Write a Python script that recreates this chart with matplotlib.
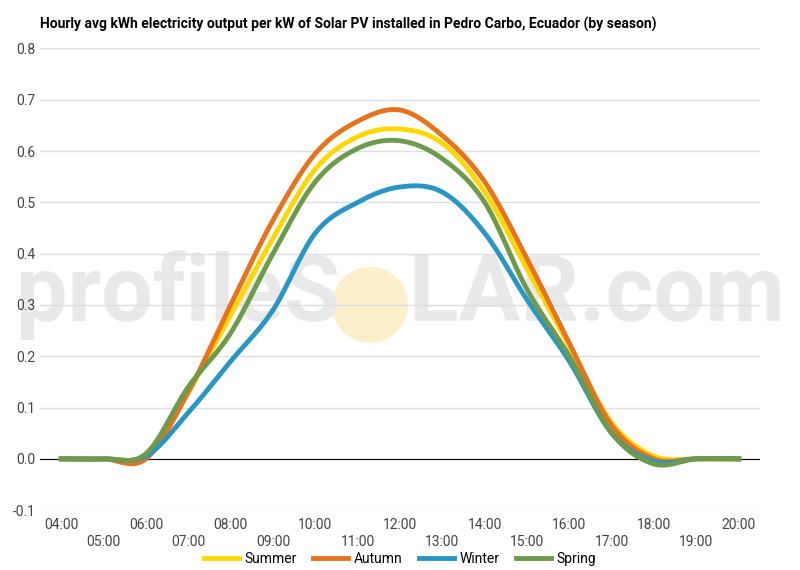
import numpy as np
import matplotlib.pyplot as plt
from matplotlib.patches import Ellipse

hours = list(range(4, 21))
summer = [0, 0, 0.005, 0.13, 0.28, 0.43, 0.565, 0.628, 0.643, 0.615, 0.52, 0.37, 0.22, 0.07, 0.005, 0, 0]
autumn = [0, 0, 0.0, 0.13, 0.30, 0.465, 0.595, 0.658, 0.68, 0.63, 0.54, 0.39, 0.225, 0.065, 0, 0, 0]
winter = [0, 0, 0.005, 0.09, 0.19, 0.29, 0.44, 0.50, 0.53, 0.52, 0.44, 0.31, 0.19, 0.05, -0.005, 0, 0]
spring = [0, 0, 0.01, 0.14, 0.245, 0.40, 0.54, 0.605, 0.62, 0.585, 0.50, 0.33, 0.20, 0.05, -0.01, 0, 0]

def smooth(x, y, n=20):
	# cubic Hermite through the hourly points
	x = np.asarray(x, float); y = np.asarray(y, float)
	m = np.gradient(y, x)
	xs, ys = [], []
	for i in range(len(x) - 1):
		t = np.linspace(0, 1, n, endpoint=False)
		h = x[i+1] - x[i]
		h00 = 2*t**3 - 3*t**2 + 1; h10 = t**3 - 2*t**2 + t
		h01 = -2*t**3 + 3*t**2; h11 = t**3 - t**2
		xs.extend(x[i] + t*h)
		ys.extend(h00*y[i] + h10*h*m[i] + h01*y[i+1] + h11*h*m[i+1])
	xs.append(x[-1]); ys.append(y[-1])
	return np.array(xs), np.array(ys)

plt.rcParams['font.family'] = ['Roboto', 'DejaVu Sans']
fig = plt.figure(figsize=(8, 5.7), dpi=100)
ax = fig.add_axes([0.05, 0.105, 0.9, 0.81])
ax.set_zorder(1)

# watermark
fig.text(0.5, 0.482, 'profileS   LAR.com', fontsize=66, fontweight='bold', color='#e9e9e9',
	ha='center', va='center', zorder=0)
fig.patches.append(Ellipse((0.4625, 0.465), 0.095, 0.095*800/570, transform=fig.transFigure,
	facecolor='#fcf0cc', edgecolor='none', zorder=0))

series = [('Summer', summer, '#ffd700'), ('Autumn', autumn, '#e8731f'),
	('Winter', winter, '#2a96c4'), ('Spring', spring, '#6f9a4c')]
for name, vals, c in series:
	xs, ys = smooth(hours, vals)
	ax.plot(xs, ys, color=c, lw=3.5, label=name, zorder=3)

ax.set_facecolor('none')
ax.set_xlim(3.5, 20.5)
ax.set_ylim(-0.1, 0.8)
ax.set_yticks(np.arange(-0.1, 0.81, 0.1))
ax.set_yticklabels(['%.1f' % v for v in np.arange(-0.1, 0.81, 0.1)])
ax.set_xticks(hours)
ax.set_xticklabels(['%02d:00' % h if h % 2 == 0 else '\n%02d:00' % h for h in hours])
ax.grid(axis='y', color='#dddddd', lw=1)
ax.axhline(0, color='black', lw=0.8, zorder=2)
for s in ax.spines.values():
	s.set_visible(False)
ax.tick_params(length=0, labelsize=10, colors='#444444')
ax.tick_params(axis='x', pad=6)
ax.set_title('Hourly avg kWh electricity output per kW of Solar PV installed in Pedro Carbo, Ecuador (by season)',
	fontsize=10, fontweight='bold', loc='left', x=-0.0, pad=14)
ax.legend(loc='center', bbox_to_anchor=(0.5, -0.105), ncol=4, frameon=False,
	fontsize=10, handlelength=2.5, handletextpad=0.4, columnspacing=1.2, borderpad=0)
fig.savefig('out.png')
